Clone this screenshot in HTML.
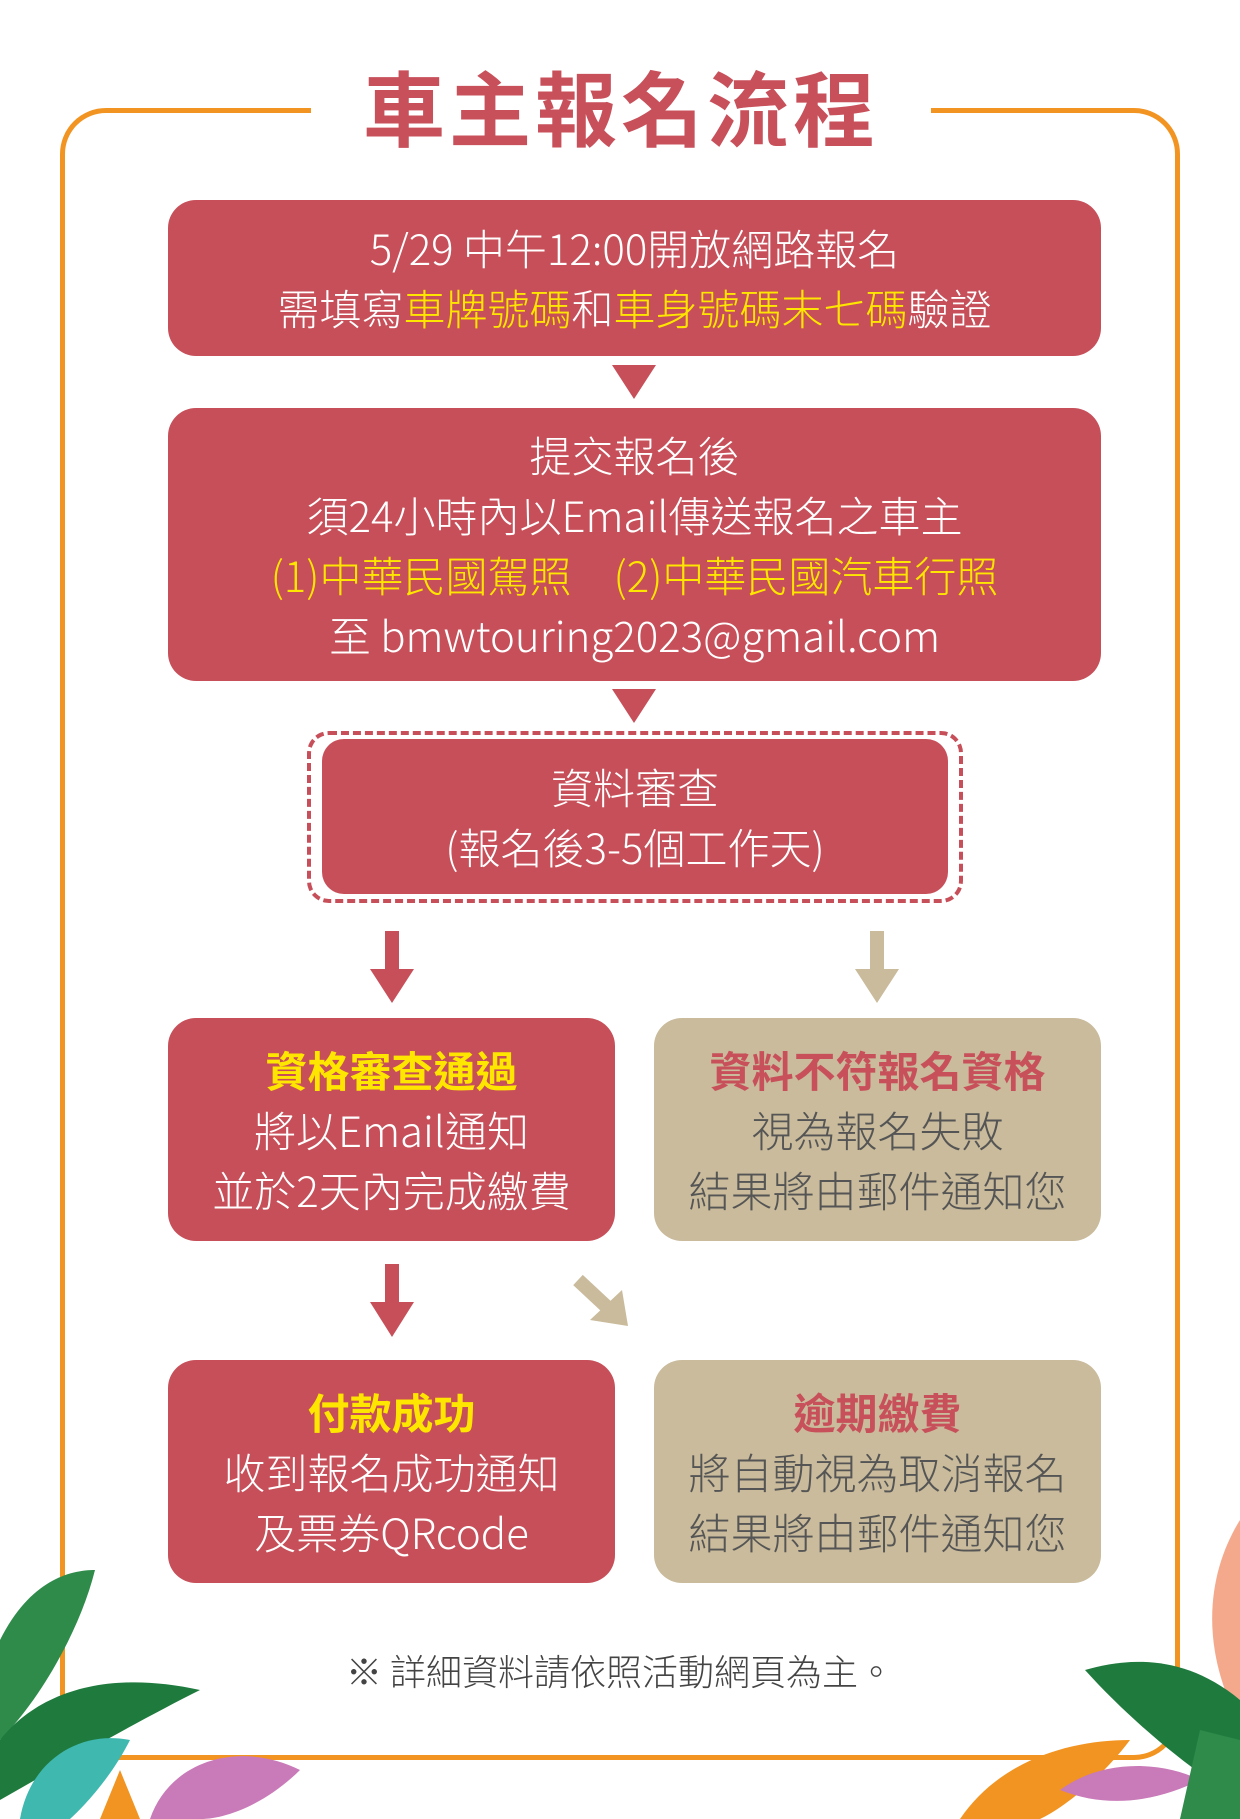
<!DOCTYPE html>
<html><head><meta charset="utf-8"><style>
*{margin:0;padding:0;box-sizing:border-box}
body{width:1240px;height:1819px;background:#fff;position:relative;overflow:hidden;font-family:"Noto Sans CJK TC","Liberation Sans",sans-serif}
.a{position:absolute}
.box{position:absolute;background:#c74f59;border-radius:28px;color:#fff;text-align:center;display:flex;flex-direction:column;justify-content:center;font-size:42px;line-height:60px;font-weight:300}
.tan{background:#c9bb9b;color:#555}
.y{color:#ffe600}
.b{font-weight:700}
.tri{position:absolute;width:0;height:0;border-left:22px solid transparent;border-right:22px solid transparent;border-top:34px solid #c74f59}
</style></head><body>
<div class="a" style="left:60px;top:108px;width:1120px;height:1652px;border:5px solid #f29422;border-radius:46px"></div>
<div class="a" style="left:311px;top:95px;width:620px;height:30px;background:#fff"></div>
<div class="a b" style="left:311px;top:50px;width:620px;text-align:center;font-size:82px;line-height:110px;color:#c8505a;letter-spacing:4px">車主報名流程</div>

<div class="box" style="left:168px;top:200px;width:933px;height:156px"><div>5/29 中午12:00開放網路報名</div><div>需填寫<span class="y">車牌號碼</span>和<span class="y">車身號碼末七碼</span>驗證</div></div>
<div class="tri" style="left:612px;top:365px"></div>
<div class="box" style="left:168px;top:408px;width:933px;height:273px"><div>提交報名後</div><div>須24小時內以Email傳送報名之車主</div><div class="y">(1)中華民國駕照　(2)中華民國汽車行照</div><div>至 bmwtouring2023@gmail.com</div></div>
<div class="tri" style="left:612px;top:689px"></div>
<div class="a" style="left:307px;top:731px;width:656px;height:172px;border:4px dashed #c74f59;border-radius:22px"></div>
<div class="box" style="left:322px;top:739px;width:626px;height:155px;border-radius:22px"><div>資料審查</div><div>(報名後3-5個工作天)</div></div>

<svg class="a" style="left:0;top:0" width="1240" height="1819">
<rect x="385" y="931" width="14" height="40" fill="#c74f59"/><polygon points="370,969 414,969 392,1003" fill="#c74f59"/>
<rect x="870" y="931" width="14" height="40" fill="#c9bb9b"/><polygon points="855,969 899,969 877,1003" fill="#c9bb9b"/>
<rect x="385" y="1264" width="14" height="40" fill="#c74f59"/><polygon points="370,1302 414,1302 392,1337" fill="#c74f59"/>
<line x1="578" y1="1280" x2="608" y2="1308" stroke="#c9bb9b" stroke-width="14"/><polygon points="590,1320 628,1326 622,1290" fill="#c9bb9b"/>
<path d="M0,1640 C30,1580 70,1570 95,1570 C80,1630 40,1700 0,1740Z" fill="#2e8b4a"/>
<path d="M0,1740 C40,1690 110,1670 200,1690 C140,1720 70,1760 0,1800Z" fill="#1f7a3e"/>
<path d="M20,1819 C30,1760 80,1730 130,1740 C110,1780 80,1810 70,1819Z" fill="#3fb8b0"/>
<path d="M150,1819 C170,1760 240,1740 300,1770 C270,1800 230,1819 200,1819Z" fill="#c97ab8"/>
<path d="M100,1819 L120,1770 L140,1819Z" fill="#f29422"/>
<path d="M1240,1520 C1215,1560 1200,1620 1225,1690 L1240,1700Z" fill="#f4a98c"/>
<path d="M1240,1700 C1180,1650 1120,1660 1085,1670 C1130,1720 1190,1770 1240,1800Z" fill="#1f7a3e"/>
<path d="M960,1819 C1000,1760 1070,1740 1130,1740 C1100,1780 1060,1810 1040,1819Z" fill="#f29422"/>
<path d="M1060,1790 C1100,1760 1160,1760 1200,1780 C1160,1800 1110,1810 1060,1790Z" fill="#c97ab8"/>
<path d="M1180,1819 L1200,1730 L1240,1740 L1240,1819Z" fill="#2e8b4a"/>
</svg>

<div class="box" style="left:168px;top:1018px;width:447px;height:223px"><div class="y b">資格審查通過</div><div>將以Email通知</div><div>並於2天內完成繳費</div></div>
<div class="box tan" style="left:654px;top:1018px;width:447px;height:223px"><div class="b" style="color:#c8505a">資料不符報名資格</div><div>視為報名失敗</div><div>結果將由郵件通知您</div></div>
<div class="box" style="left:168px;top:1360px;width:447px;height:223px"><div class="y b">付款成功</div><div>收到報名成功通知</div><div>及票券QRcode</div></div>
<div class="box tan" style="left:654px;top:1360px;width:447px;height:223px"><div class="b" style="color:#c8505a">逾期繳費</div><div>將自動視為取消報名</div><div>結果將由郵件通知您</div></div>
<div class="a" style="left:0;top:1647px;width:1240px;text-align:center;font-size:36px;line-height:46px;color:#444;font-weight:300">※ 詳細資料請依照活動網頁為主。</div>
</body></html>
